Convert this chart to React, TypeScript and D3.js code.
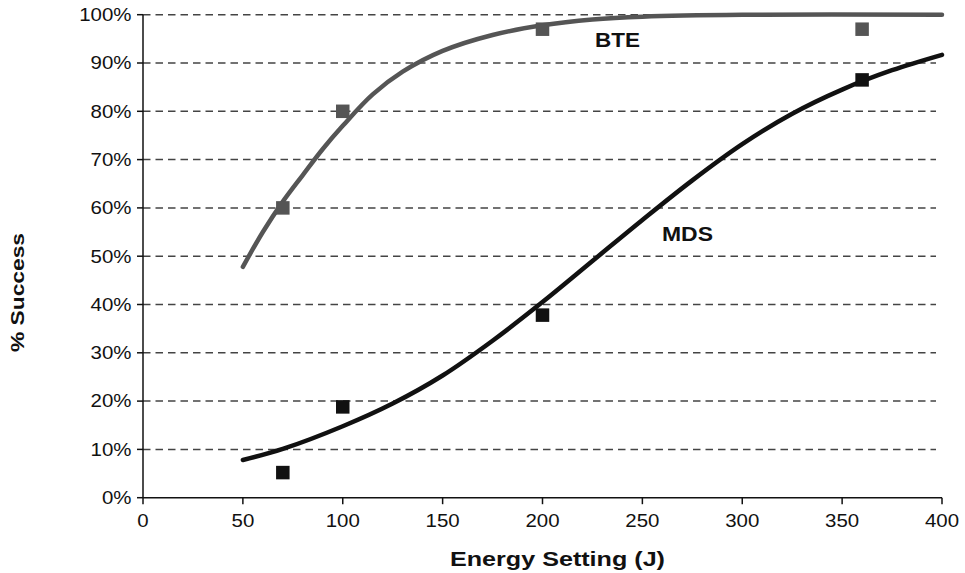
import React from "react";
import * as d3 from "d3";

const xTicks = [0, 50, 100, 150, 200, 250, 300, 350, 400];
const yTicks = [0, 0.1, 0.2, 0.3, 0.4, 0.5, 0.6, 0.7, 0.8, 0.9, 1.0];

const bteCurveX = [50, 60, 70, 80, 90, 100, 115, 130, 150, 175, 200, 225, 250, 300, 400];
const bteCurveY = [0.478, 0.55, 0.613, 0.668, 0.722, 0.77, 0.835, 0.882, 0.925, 0.958, 0.978, 0.99, 0.996, 1.0, 1.0];
const mdsCurveX = [50, 70, 100, 125, 150, 175, 200, 225, 250, 275, 300, 325, 350, 375, 400];
const mdsCurveY = [0.078, 0.101, 0.148, 0.195, 0.253, 0.325, 0.405, 0.49, 0.575, 0.657, 0.732, 0.795, 0.845, 0.885, 0.917];

const bteObsX = [70, 100, 200, 360];
const bteObsY = [0.6, 0.8, 0.97, 0.97];
const mdsObsX = [70, 100, 200, 360];
const mdsObsY = [0.052, 0.188, 0.378, 0.865];

const W = 965, H = 573;
const FONT = "'Liberation Sans', Arial, Helvetica, sans-serif";

export default function App() {
  const x = d3.scaleLinear().domain([0, 400]).range([143, 942]);
  const y = d3.scaleLinear().domain([0, 1]).range([497.7, 14.7]);
  const line = d3
    .line<[number, number]>()
    .x((d) => x(d[0]))
    .y((d) => y(d[1]))
    .curve(d3.curveCatmullRom.alpha(0.5));
  const bte = line(bteCurveX.map((v, i) => [v, bteCurveY[i]]) as [number, number][]) || "";
  const mds = line(mdsCurveX.map((v, i) => [v, mdsCurveY[i]]) as [number, number][]) || "";
  const sq = 13.5;
  const sx = 1.15;

  return (
    <svg width={W} height={H} style={{ position: "absolute", left: 0, top: 0, background: "#fff" }}>
      <rect width={W} height={H} fill="#fff" />
      {yTicks.filter((t) => t > 0).map((t) => (
        <line key={"g" + t} x1={x(0)} x2={936} y1={y(t)} y2={y(t)} stroke="#444" strokeWidth={1.5} strokeDasharray="7.5,5" />
      ))}
      <line x1={x(0)} x2={x(0)} y1={y(0)} y2={y(1)} stroke="#111" strokeWidth={1.5} />
      <line x1={x(0)} x2={x(400)} y1={y(0)} y2={y(0)} stroke="#111" strokeWidth={1.5} />
      {yTicks.map((t) => (
        <g key={"yt" + t}>
          <line x1={x(0) - 6} x2={x(0)} y1={y(t)} y2={y(t)} stroke="#111" strokeWidth={1.5} />
          <text
            transform={`translate(${131.5},${y(t) + 6.3}) scale(${sx},1)`}
            textAnchor="end"
            fontFamily={FONT}
            fontSize={17.8}
            fill="#111"
          >
            {Math.round(t * 100) + "%"}
          </text>
        </g>
      ))}
      {xTicks.map((t) => (
        <g key={"xt" + t}>
          <line x1={x(t)} x2={x(t)} y1={y(0)} y2={y(0) + 6.5} stroke="#111" strokeWidth={1.5} />
          <text
            transform={`translate(${x(t)},${527.3}) scale(${sx},1)`}
            textAnchor="middle"
            fontFamily={FONT}
            fontSize={17.8}
            fill="#111"
          >
            {t}
          </text>
        </g>
      ))}
      <path d={bte} fill="none" stroke="#555" strokeWidth={4.5} strokeLinecap="round" />
      <path d={mds} fill="none" stroke="#111" strokeWidth={4.5} strokeLinecap="round" />
      {bteObsX.map((v, i) => (
        <rect key={"b" + i} x={x(v) - sq / 2} y={y(bteObsY[i]) - sq / 2} width={sq} height={sq} fill="#555" />
      ))}
      {mdsObsX.map((v, i) => (
        <rect key={"m" + i} x={x(v) - sq / 2} y={y(mdsObsY[i]) - sq / 2} width={sq} height={sq} fill="#111" />
      ))}
      <text x={595} y={47.3} fontFamily={FONT} fontWeight="bold" fontSize={20} textLength={45} lengthAdjust="spacingAndGlyphs" fill="#111">
        BTE
      </text>
      <text x={662} y={241} fontFamily={FONT} fontWeight="bold" fontSize={21} textLength={51} lengthAdjust="spacingAndGlyphs" fill="#111">
        MDS
      </text>
      <text x={450} y={566} fontFamily={FONT} fontWeight="bold" fontSize={21} textLength={215} lengthAdjust="spacingAndGlyphs" fill="#111">
        Energy Setting (J)
      </text>
      <text
        transform="translate(24,352) rotate(-90)"
        fontFamily={FONT}
        fontWeight="bold"
        fontSize={19}
        textLength={119}
        lengthAdjust="spacingAndGlyphs"
        fill="#111"
      >
        % Success
      </text>
    </svg>
  );
}
